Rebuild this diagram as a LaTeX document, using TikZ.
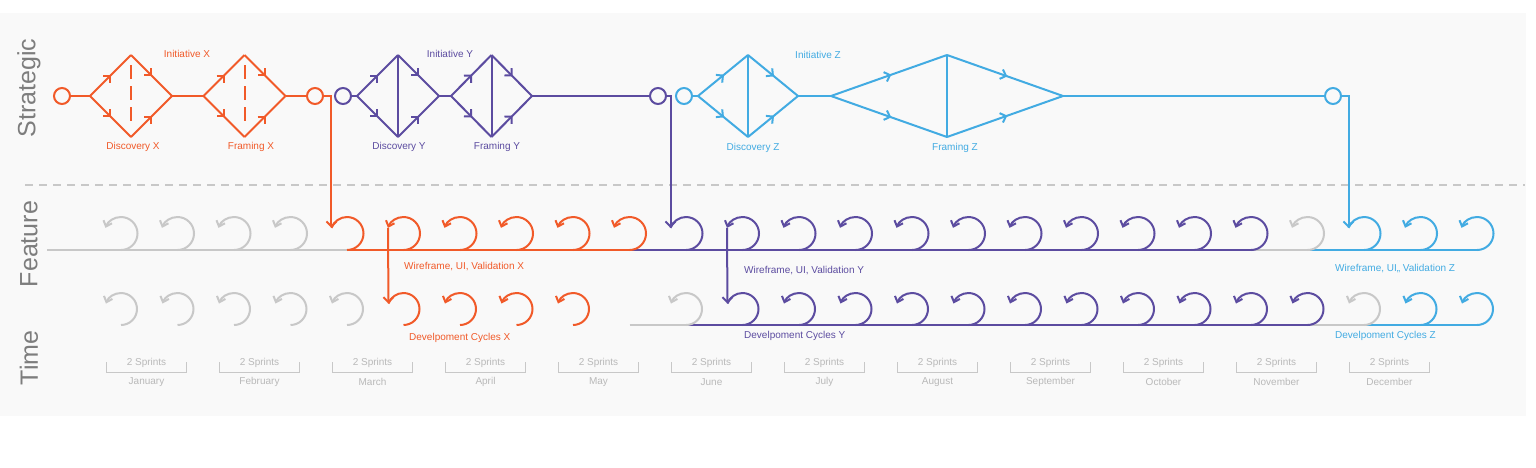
\documentclass[tikz,border=0pt]{standalone}
\usepackage{fontspec}
\setmainfont{Liberation Sans}
\usepackage{tikz}
\usetikzlibrary{calc, positioning, arrows.meta, decorations.markings}

\definecolor{xorg}{RGB}{241,90,41}
\definecolor{ypur}{RGB}{92,76,160}
\definecolor{zcyan}{RGB}{66,171,226}
\definecolor{lgray}{RGB}{200,200,200}
\definecolor{panelgray}{RGB}{249,249,249}
\definecolor{axisgray}{RGB}{125,125,125}
\definecolor{monthgray}{RGB}{185,185,185}

\begin{document}
\begin{tikzpicture}[x=1pt, y=-1pt, font=\fontsize{10}{12}\selectfont,
	l_2/.style={line width=2pt},
	endc/.style={circle, draw, line width=2pt, minimum size=16pt, inner sep=0pt},
	midarrow/.style={postaction={decorate}, decoration={markings,
		mark=at position 0.52 with {\arrow{Straight Barb[length=5pt, width=10pt]}}}},
	vdash/.style={dash pattern=on 14pt off 7pt, shorten <=10pt, shorten >=15pt},
	vsolid/.style={},
	hd/.style={-{Straight Barb[length=5pt, width=9pt]}},
	nohd/.style={},
	drop/.style={l_2, -{Straight Barb[length=5pt, width=10pt]}},
	lbl/.style={inner sep=0pt},
	axislabel/.style={rotate=90, text=axisgray, font=\fontsize{25}{30}\selectfont},
	sprint/.style={text=monthgray, font=\fontsize{10}{12}\selectfont, inner sep=0pt}]
	\useasboundingbox (0,0) rectangle (1536,467);
	\fill[panelgray] (0,13) rectangle (1526,416);
	
	% axis labels and separator
	\node[axislabel] (strat) at (29,88) {Strategic};
	\node[axislabel] (feat) at (29,244) {Feature};
	\node[axislabel] (time) at (29,358) {Time};
	\coordinate (sepl) at (25,185);
	\coordinate (sepr) at (1525,185);
	\draw[lgray, line width=1.5pt, dash pattern=on 8pt off 6pt] (sepl) -- (sepr);
	
	% strategic diamonds
	\foreach \n/\cx/\w/\c/\v in {dx1/131/41/xorg/vdash, dx2/244.5/41/xorg/vdash,
		dy1/398/41/ypur/vsolid, dy2/491.5/40.5/ypur/vsolid,
		dz1/748/50/zcyan/vsolid, dz2/947/116/zcyan/vsolid} {
		\coordinate (\n-l) at (\cx-\w,96);
		\coordinate (\n-r) at (\cx+\w,96);
		\coordinate (\n-t) at (\cx,55);
		\coordinate (\n-b) at (\cx,137);
		\draw[l_2, \c, midarrow] (\n-l) -- (\n-t);
		\draw[l_2, \c, midarrow] (\n-t) -- (\n-r);
		\draw[l_2, \c, midarrow] (\n-l) -- (\n-b);
		\draw[l_2, \c, midarrow] (\n-b) -- (\n-r);
		\draw[l_2, \c, \v] (\n-t) -- (\n-b);
	};
	\node[endc, draw=xorg] (sx) at (62,96) {};
	\node[endc, draw=xorg] (ex) at (315,96) {};
	\node[endc, draw=ypur] (sy) at (343,96) {};
	\node[endc, draw=ypur] (ey) at (658,96) {};
	\node[endc, draw=zcyan] (sz) at (684,96) {};
	\node[endc, draw=zcyan] (ez) at (1333,96) {};
	\draw[l_2, xorg] (sx) -- (dx1-l) (dx1-r) -- (dx2-l) (dx2-r) -- (ex);
	\draw[l_2, ypur] (sy) -- (dy1-l) (dy1-r) -- (dy2-l) (dy2-r) -- (ey);
	\draw[l_2, zcyan] (sz) -- (dz1-l) (dz1-r) -- (dz2-l) (dz2-r) -- (ez);
	
	\node[lbl, text=xorg] (initx) at (187,54) {Initiative X};
	\node[lbl, text=xorg] (discx) at (133,147) {Discovery X};
	\node[lbl, text=xorg] (framx) at (251,147) {Framing X};
	\node[lbl, text=ypur] (inity) at (450,54) {Initiative Y};
	\node[lbl, text=ypur] (discy) at (399,147) {Discovery Y};
	\node[lbl, text=ypur] (framy) at (497,147) {Framing Y};
	\node[lbl, text=zcyan] (initz) at (818,55) {Initiative Z};
	\node[lbl, text=zcyan] (discz) at (753,148) {Discovery Z};
	\node[lbl, text=zcyan] (framz) at (955,148) {Framing Z};
	
	% sprint loops
	\foreach \k in {0,...,24} {
		\coordinate (fb\k) at (121+56.5*\k,250);
		\coordinate (tb\k) at (121+56.5*\k,325);
	};
	\coordinate (fstart) at (47,250);
	\draw[l_2, lgray] (fstart) -- (fb4);
	\draw[l_2, xorg] (fb4) -- (fb9);
	\draw[l_2, ypur] (fb9) -- (fb20);
	\draw[l_2, lgray] (fb20) -- (fb21);
	\draw[l_2, zcyan] (fb21) -- (fb24);
	\draw[l_2, lgray] (tb9) -- (tb10);
	\draw[l_2, ypur] (tb10) -- (tb21);
	\draw[l_2, lgray] (tb21) -- (tb22);
	\draw[l_2, zcyan] (tb22) -- (tb24);
	\foreach \k/\c/\t in {0/lgray/hd, 1/lgray/hd, 2/lgray/hd, 3/lgray/hd,
		4/xorg/nohd, 5/xorg/hd, 6/xorg/hd, 7/xorg/hd, 8/xorg/hd, 9/xorg/hd,
		10/ypur/nohd, 11/ypur/hd, 12/ypur/hd, 13/ypur/hd, 14/ypur/hd, 15/ypur/hd,
		16/ypur/hd, 17/ypur/hd, 18/ypur/hd, 19/ypur/hd, 20/ypur/hd,
		21/lgray/hd, 22/zcyan/nohd, 23/zcyan/hd, 24/zcyan/hd} {
		\draw[l_2, \c, \t] (fb\k) arc[start angle=90, end angle=-160, radius=16.5] coordinate (fe\k);
	};
	\foreach \k/\c/\t in {0/lgray/hd, 1/lgray/hd, 2/lgray/hd, 3/lgray/hd, 4/lgray/hd,
		5/xorg/nohd, 6/xorg/hd, 7/xorg/hd, 8/xorg/hd,
		10/lgray/hd, 11/ypur/nohd, 12/ypur/hd, 13/ypur/hd, 14/ypur/hd, 15/ypur/hd,
		16/ypur/hd, 17/ypur/hd, 18/ypur/hd, 19/ypur/hd, 20/ypur/hd, 21/ypur/hd,
		22/lgray/hd, 23/zcyan/hd, 24/zcyan/hd} {
		\draw[l_2, \c, \t] (tb\k) arc[start angle=90, end angle=-160, radius=16] coordinate (te\k);
	};
	
	% hand-offs
	\draw[drop, xorg] (ex) -| (fe4);
	\draw[drop, ypur] (ey) -| (fe10);
	\draw[drop, zcyan] (ez) -| (fe22);
	\draw[drop, xorg] (fe5) -- (te5);
	\draw[drop, ypur] (fe11) -- (te11);
	
	\node[lbl, anchor=west, text=xorg] (wfx) at (404,267) {Wireframe, UI, Validation X};
	\node[lbl, anchor=west, text=ypur] (wfy) at (744,271) {Wireframe, UI, Validation Y};
	\node[lbl, anchor=west, text=zcyan] (wfz) at (1335,269) {Wireframe, UI,, Validation Z};
	\node[lbl, anchor=west, text=xorg] (devx) at (409,338) {Develpoment Cycles X};
	\node[lbl, anchor=west, text=ypur] (devy) at (744,336) {Develpoment Cycles Y};
	\node[lbl, anchor=west, text=zcyan] (devz) at (1335,336) {Develpoment Cycles Z};
	
	% months
	\foreach \mo [count=\m from 0] in {January, February, March, April, May, June,
		July, August, September, October, November, December} {
		\draw[lgray, line width=1pt] (106.5+113*\m,362) -- ++(0,10) -- ++(80,0) -- ++(0,-10);
		\node[sprint] (sp\m) at (146.5+113*\m,363) {2 Sprints};
		\node[sprint] (mo\m) at (146.5+113*\m,382) {\mo};
	};
\end{tikzpicture}
\end{document}
